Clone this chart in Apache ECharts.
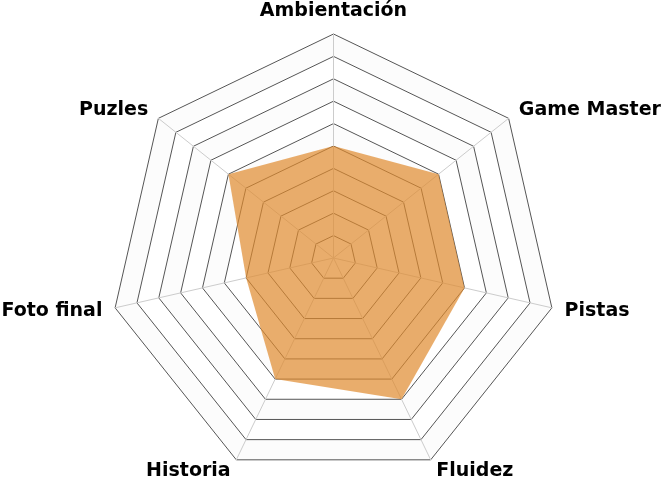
<!DOCTYPE html>
<html>
<head>
<meta charset="utf-8">
<script src="https://cdn.jsdelivr.net/npm/echarts@6/dist/echarts.min.js"></script>
<style>
  html, body { margin: 0; padding: 0; background: #fff; }
  #chart { width: 667px; height: 480px; }
</style>
</head>
<body>
<div id="chart"></div>
<script>
// indicadores en orden antihorario (ECharts arranca arriba y gira a la izquierda)
const indicators = ['Ambientación', 'Puzles', 'Foto final', 'Historia', 'Fluidez', 'Pistas', 'Game Master']
const scores = [5, 6, 4, 6, 7, 6, 6]
const maxScore = 10

const chart = echarts.init(document.getElementById('chart'))

const option = {
  animation: false,
  radar: {
    center: ['50%', 258],
    radius: 224,
    startAngle: 90,
    splitNumber: 10,
    shape: 'polygon',
    indicator: indicators.map(name => ({ name: name, max: maxScore })),
    axisName: {
      color: '#000',
      fontFamily: 'DejaVu Sans',
      fontWeight: 'bold',
      fontSize: 19
    },
    nameGap: 13,
    axisLine: { lineStyle: { color: '#cccccc', width: 1 } },
    splitLine: { lineStyle: { color: '#555555', width: 1 } },
    splitArea: { show: true, areaStyle: { color: ['#ffffff', '#fcfcfc'] } }
  },
  series: [
    {
      type: 'radar',
      symbol: 'none',
      lineStyle: { width: 0 },
      areaStyle: { color: '#E08A2E', opacity: 0.7 },
      data: [{ value: scores }]
    }
  ]
}

chart.setOption(option)
</script>
</body>
</html>
